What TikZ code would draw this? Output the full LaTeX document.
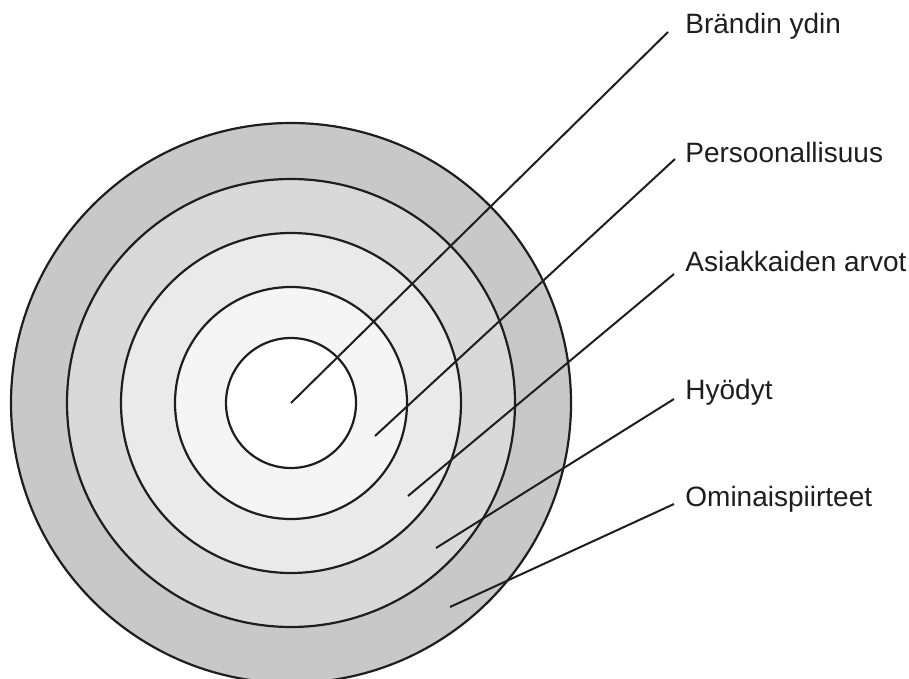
\documentclass[tikz,border=0pt]{standalone}
\usepackage{fontspec}
\setmainfont{Liberation Sans}
\usetikzlibrary{positioning}
\definecolor{ringouter}{RGB}{200,200,200}
\definecolor{ringfour}{RGB}{217,217,217}
\definecolor{ringthree}{RGB}{234,234,234}
\definecolor{ringtwo}{RGB}{245,245,245}
\definecolor{ringcore}{RGB}{255,255,255}
\definecolor{inkgray}{RGB}{30,30,30}
\tikzset{
  % One layer of the onion
  ring/.style={
    circle, inner sep=0pt,
    draw=inkgray, line width=1.1pt
  },
  % Leader line from a layer to its name
  lead/.style={
    draw=inkgray, line width=1pt
  },
  % Layer name
  tag/.style={
    anchor=base west, inner sep=0pt,
    font=\fontsize{14}{16}\selectfont, text=inkgray
  },
}

\begin{document}
\begin{tikzpicture}[x=0.5pt, y=-0.5pt]

\useasboundingbox (0,0) rectangle (909,679);

%% ── LAYERS (outside in) ──────────────────────────────────────────────────

\coordinate (core) at (291,403);

\node[ring, minimum size=280pt, fill=ringouter] (features) at (core) {};
\node[ring, minimum size=224pt, fill=ringfour]  (benefits) at (core) {};
\node[ring, minimum size=170pt, fill=ringthree] (values)   at (core) {};
\node[ring, minimum size=116pt, fill=ringtwo]   (persona)  at (core) {};
\node[ring, minimum size=65pt,  fill=ringcore]  (essence)  at (core) {};

%% ── NAMES ────────────────────────────────────────────────────────────────

\node[tag] (essencetag)  at (685,34)  {Brändin ydin};
\node[tag] (personatag)  at (685,163) {Persoonallisuus};
\node[tag] (valuestag)   at (685,271) {Asiakkaiden arvot};
\node[tag] (benefitstag) at (685,399) {Hyödyt};
\node[tag] (featurestag) at (685,506) {Ominaispiirteet};

%% ── LEADERS ──────────────────────────────────────────────────────────────

\coordinate (personapt)  at (375,436);
\coordinate (valuespt)   at (408,496);
\coordinate (benefitspt) at (436,548);
\coordinate (featurespt) at (450,607);

\draw[lead] (core)       -- ([shift={(-17,-2)}]essencetag.base west);
\draw[lead] (personapt)  -- ([shift={(-10,-4)}]personatag.base west);
\draw[lead] (valuespt)   -- ([shift={(-11,3)}]valuestag.base west);
\draw[lead] (benefitspt) -- ([shift={(-11,0)}]benefitstag.base west);
\draw[lead] (featurespt) -- ([shift={(-11,-2)}]featurestag.base west);

\end{tikzpicture}
\end{document}
